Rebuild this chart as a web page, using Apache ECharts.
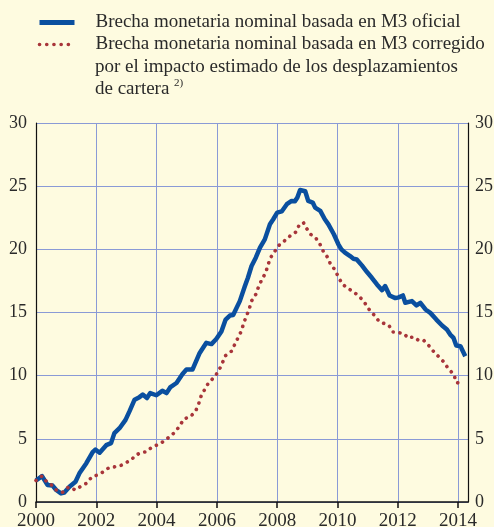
<!DOCTYPE html>
<html>
<head>
<meta charset="utf-8">
<script src="https://cdn.jsdelivr.net/npm/echarts@6/dist/echarts.min.js"></script>
<style>
  html, body { margin: 0; padding: 0; background: #fefbe0; }
  #chart { width: 494px; height: 527px; }
</style>
</head>
<body>
<div id="chart"></div>
<script>
  // years (decimal) and values
  const yearTicks = [2000, 2002, 2004, 2006, 2008, 2010, 2012, 2014]
  const valueTicks = [0, 5, 10, 15, 20, 25, 30]

  const oficialYears = [
    2000.00, 2000.20, 2000.38, 2000.55, 2000.67, 2000.83, 2000.94, 2001.11, 2001.31, 2001.44,
    2001.67, 2001.88, 2001.97, 2002.11, 2002.33, 2002.49, 2002.60, 2002.77, 2002.97, 2003.10,
    2003.27, 2003.43, 2003.54, 2003.68, 2003.79, 2003.99, 2004.19, 2004.33, 2004.46, 2004.66,
    2004.86, 2004.99, 2005.19, 2005.43, 2005.65, 2005.82, 2005.98, 2006.15, 2006.29, 2006.43,
    2006.54, 2006.76, 2006.93, 2007.03, 2007.15, 2007.29, 2007.43, 2007.59, 2007.76, 2007.87,
    2008.00, 2008.15, 2008.32, 2008.48, 2008.59, 2008.67, 2008.76, 2008.93, 2009.03, 2009.18,
    2009.26, 2009.43, 2009.58, 2009.70, 2009.88, 2010.03, 2010.13, 2010.25, 2010.42, 2010.53,
    2010.64, 2010.81, 2010.98, 2011.14, 2011.31, 2011.48, 2011.58, 2011.73, 2011.92, 2012.03,
    2012.17, 2012.25, 2012.47, 2012.62, 2012.75, 2012.92, 2013.08, 2013.28, 2013.47, 2013.63,
    2013.74, 2013.85, 2013.94, 2014.08, 2014.24
  ]
  const oficialValues = [
    1.70, 2.05, 1.35, 1.30, 0.95, 0.68, 0.75, 1.20, 1.60, 2.27,
    3.07, 3.95, 4.15, 3.90, 4.50, 4.66, 5.45, 5.84, 6.50, 7.17,
    8.10, 8.30, 8.50, 8.23, 8.62, 8.45, 8.80, 8.62, 9.10, 9.42,
    10.13, 10.48, 10.48, 11.80, 12.60, 12.50, 12.90, 13.50, 14.44, 14.76,
    14.80, 15.90, 17.09, 17.75, 18.68, 19.34, 20.13, 20.79, 21.98, 22.38,
    22.90, 23.00, 23.57, 23.83, 23.80, 24.10, 24.70, 24.60, 23.83, 23.70,
    23.30, 23.04, 22.38, 21.98, 21.19, 20.40, 20.00, 19.74, 19.47, 19.26,
    19.20, 18.73, 18.20, 17.75, 17.22, 16.77, 17.09, 16.35, 16.14, 16.20,
    16.35, 15.77, 15.90, 15.56, 15.77, 15.24, 14.97, 14.44, 13.97, 13.65,
    13.25, 12.99, 12.38, 12.33, 11.53
  ]

  const corregidoYears = [
    2000.00, 2000.20, 2000.35, 2000.53, 2000.67, 2000.88, 2001.08, 2001.31, 2001.50, 2001.68,
    2001.86, 2002.05, 2002.24, 2002.42, 2002.60, 2002.79, 2002.99, 2003.16, 2003.30, 2003.49,
    2003.68, 2003.86, 2004.05, 2004.26, 2004.41, 2004.61, 2004.77, 2004.90, 2005.13, 2005.30,
    2005.40, 2005.48, 2005.61, 2005.74, 2005.93, 2006.08, 2006.18, 2006.29, 2006.48, 2006.59,
    2006.70, 2006.82, 2006.89, 2006.99, 2007.08, 2007.16, 2007.29, 2007.38, 2007.49, 2007.62,
    2007.69, 2007.78, 2007.93, 2008.07, 2008.26, 2008.45, 2008.63, 2008.73, 2008.87, 2008.98,
    2009.11, 2009.28, 2009.42, 2009.53, 2009.68, 2009.78, 2009.92, 2010.03, 2010.17, 2010.37,
    2010.55, 2010.75, 2010.92, 2011.06, 2011.25, 2011.39, 2011.55, 2011.71, 2011.82, 2012.06,
    2012.22, 2012.33, 2012.53, 2012.70, 2012.86, 2013.03, 2013.20, 2013.38, 2013.54, 2013.68,
    2013.87, 2013.93, 2014.13
  ]
  const corregidoValues = [
    1.70, 2.06, 1.61, 1.32, 0.95, 0.77, 1.19, 0.95, 1.27, 1.48,
    2.01, 2.14, 2.40, 2.72, 2.78, 2.86, 3.12, 3.33, 3.70, 3.91,
    3.99, 4.39, 4.53, 4.84, 5.13, 5.53, 6.03, 6.56, 6.77, 7.22,
    7.80, 8.41, 8.97, 9.50, 9.90, 10.48, 11.00, 11.59, 11.93, 12.46,
    12.99, 13.57, 14.18, 14.76, 15.35, 15.95, 16.43, 17.02, 17.60, 18.15,
    18.73, 19.34, 19.87, 20.34, 20.71, 21.11, 21.38, 21.93, 22.12, 21.64,
    21.19, 20.90, 20.40, 19.84, 19.34, 18.76, 18.38, 17.80, 17.22, 16.88,
    16.61, 16.21, 15.71, 15.21, 14.71, 14.26, 14.13, 13.97, 13.47, 13.39,
    13.31, 12.99, 13.07, 12.78, 12.80, 12.38, 11.88, 11.45, 11.06, 10.53,
    10.08, 9.47, 9.34
  ]

  const serieOficial = 'Brecha monetaria nominal basada en M3 oficial'
  const serieCorregido = 'Brecha monetaria nominal basada en M3 corregido'

  const fontFamily = '"Liberation Serif", "DejaVu Serif", serif'
  const textColor = '#2a2a2a'
  const gridColor = '#8a9ad6'
  const blue = '#0a4f9f'
  const red = '#a8353a'
  const dots = [0.1, 6.8]

  const zip = (xs, ys) => xs.map((x, i) => [x, ys[i]])

  const chart = echarts.init(document.getElementById('chart'))

  const yAxisBase = {
    type: 'value',
    min: valueTicks[0],
    max: valueTicks[valueTicks.length - 1],
    interval: valueTicks[1] - valueTicks[0],
    axisLine: { show: true, lineStyle: { color: '#111', width: 1.2 } },
    axisTick: { show: false },
    axisLabel: { color: textColor, fontFamily, fontSize: 18, margin: 9 }
  }

  chart.setOption({
    backgroundColor: '#fefbe0',
    animation: false,
    legend: {
      orient: 'vertical',
      left: 37,
      top: 12,
      padding: 0,
      itemWidth: 35,
      itemHeight: 21,
      itemGap: 1,
      itemStyle: { color: 'rgba(0,0,0,0)', borderWidth: 0 },
      textStyle: {
        color: textColor,
        fontFamily,
        fontSize: 19,
        lineHeight: 21,
        padding: [0, 0, 0, 16]
      },
      data: [
        { name: serieOficial, lineStyle: { color: blue, width: 5, cap: 'butt' } },
        { name: serieCorregido, lineStyle: { color: red, width: 3.6, type: [0.1, 7.1], cap: 'round' } }
      ]
    },
    graphic: [{
      type: 'text',
      left: 95,
      top: 56,
      style: {
        text: 'por el impacto estimado de los desplazamientos\n{a|de cartera }{sup|2)}',
        font: '19px ' + fontFamily,
        fill: textColor,
        lineHeight: 22,
        rich: {
          a: { fontFamily, fontSize: 19, fill: textColor, lineHeight: 22 },
          sup: { fontFamily, fontSize: 11, fill: textColor, verticalAlign: 'top', lineHeight: 22, padding: [0, 0, 6, 0] }
        }
      }
    }],
    grid: { left: 36, right: 26, top: 123, bottom: 25, outerBoundsMode: 'none', containLabel: false },
    xAxis: {
      type: 'value',
      min: yearTicks[0],
      max: 2014.33,
      interval: 2,
      axisLine: { lineStyle: { color: '#111', width: 1.5 } },
      axisTick: { show: true, length: 6, lineStyle: { color: '#111', width: 1.5 } },
      splitLine: { show: true, lineStyle: { color: gridColor, width: 1 } },
      axisLabel: {
        color: textColor, fontFamily, fontSize: 19, margin: 10,
        showMaxLabel: false,
        formatter: v => yearTicks.includes(v) ? String(v) : ''
      }
    },
    yAxis: [
      Object.assign({}, yAxisBase, {
        position: 'left',
        splitLine: { show: true, lineStyle: { color: gridColor, width: 1 } }
      }),
      Object.assign({}, yAxisBase, {
        position: 'right',
        splitLine: { show: false },
        axisLabel: { color: textColor, fontFamily, fontSize: 18, margin: 7 }
      })
    ],
    series: [
      {
        name: serieOficial,
        type: 'line',
        data: zip(oficialYears, oficialValues),
        showSymbol: false,
        symbol: 'none',
        lineStyle: { color: blue, width: 4.5, join: 'round' },
        itemStyle: { color: blue }
      },
      {
        name: serieCorregido,
        type: 'line',
        data: zip(corregidoYears, corregidoValues),
        showSymbol: false,
        symbol: 'none',
        lineStyle: { color: red, width: 3.6, type: dots, cap: 'round' },
        itemStyle: { color: red }
      }
    ]
  })
</script>
</body>
</html>
